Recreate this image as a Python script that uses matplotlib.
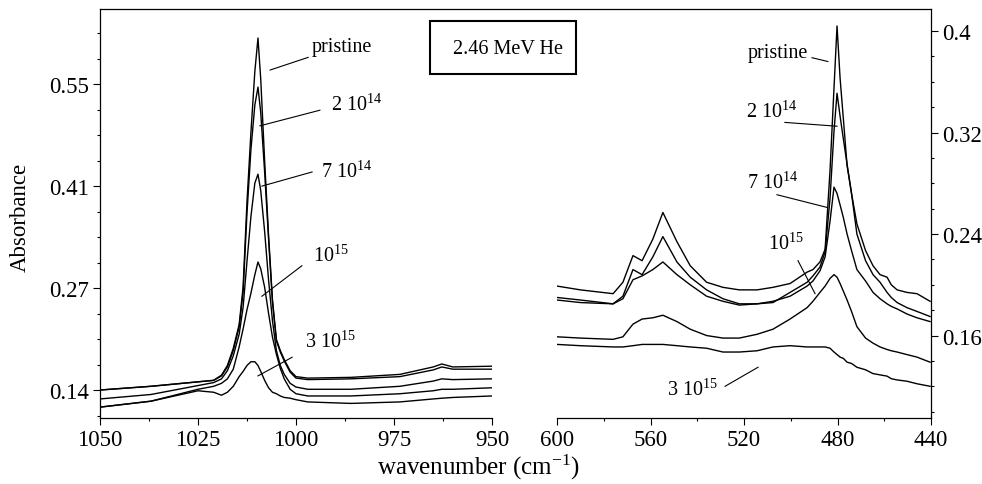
import numpy as np
import matplotlib
matplotlib.use("Agg")
import matplotlib.pyplot as plt
from matplotlib.ticker import MultipleLocator, FuncFormatter
from matplotlib.lines import Line2D
from matplotlib.patches import Rectangle

plt.rcParams['font.family'] = ['Liberation Serif', 'DejaVu Serif']
plt.rcParams['mathtext.fontset'] = 'custom'
plt.rcParams['mathtext.rm'] = 'Liberation Serif'
plt.rcParams['mathtext.it'] = 'Liberation Serif:italic'

# --- data: left panel (1050-950 cm-1) --- #
wn_left = [1050, 1037, 1025, 1021, 1019, 1017.5, 1016, 1014.5, 1013.5, 1012.5, 1011.5,
           1010.5, 1009.7, 1009, 1008, 1007, 1006, 1005, 1004, 1003, 1001.5, 1000, 997,
           986, 973.5, 965, 962.8, 960, 950]
left_pristine = [0.137, 0.142, 0.148, 0.150, 0.157, 0.170, 0.193, 0.225, 0.275, 0.390, 0.483,
                 0.565, 0.610, 0.555, 0.445, 0.345, 0.258, 0.205, 0.190, 0.178, 0.163, 0.155,
                 0.153, 0.154, 0.158, 0.168, 0.172, 0.168, 0.169]
left_2e14 = [0.137, 0.142, 0.148, 0.150, 0.156, 0.168, 0.190, 0.222, 0.268, 0.375, 0.460,
             0.520, 0.544, 0.510, 0.430, 0.340, 0.255, 0.203, 0.188, 0.176, 0.161, 0.153,
             0.151, 0.152, 0.155, 0.164, 0.168, 0.165, 0.165]
left_7e14 = [0.125, 0.131, 0.143, 0.147, 0.152, 0.163, 0.183, 0.212, 0.248, 0.310, 0.370,
             0.415, 0.427, 0.405, 0.350, 0.285, 0.230, 0.190, 0.170, 0.158, 0.146, 0.141,
             0.138, 0.138, 0.142, 0.149, 0.152, 0.151, 0.152]
left_1e15 = [0.114, 0.122, 0.138, 0.142, 0.146, 0.152, 0.165, 0.195, 0.219, 0.245, 0.267,
             0.292, 0.309, 0.300, 0.275, 0.240, 0.208, 0.185, 0.166, 0.152, 0.138, 0.132,
             0.129, 0.129, 0.132, 0.136, 0.138, 0.138, 0.140]
left_3e15 = [0.114, 0.122, 0.136, 0.134, 0.130, 0.134, 0.142, 0.155, 0.162, 0.170, 0.175,
             0.175, 0.170, 0.162, 0.150, 0.140, 0.134, 0.132, 0.129, 0.127, 0.126, 0.124,
             0.121, 0.119, 0.121, 0.125, 0.126, 0.127, 0.129]

# --- data: right panel (600-440 cm-1) --- #
wn_right = [600, 590, 576, 571.8, 567.5, 563.6, 559, 554.7, 548.7, 543, 536, 529, 522,
            514.4, 507.6, 500.3, 493, 490.5, 487.5, 485.3, 483.2, 481.5, 480.2, 478.9,
            477.5, 475.9, 474, 471.7, 468, 464.8, 461.8, 458.8, 457, 454.5, 450.3, 446, 440.4]
right_pristine = [0.199, 0.196, 0.193, 0.202, 0.223, 0.219, 0.236, 0.257, 0.234, 0.215, 0.202,
                  0.198, 0.196, 0.196, 0.198, 0.201, 0.210, 0.212, 0.218, 0.228, 0.290, 0.355,
                  0.404, 0.363, 0.331, 0.294, 0.272, 0.248, 0.227, 0.215, 0.208, 0.206, 0.200,
                  0.196, 0.194, 0.193, 0.187]
right_2e14 = [0.190, 0.188, 0.185, 0.191, 0.212, 0.208, 0.222, 0.238, 0.218, 0.206, 0.196,
              0.189, 0.185, 0.185, 0.186, 0.194, 0.202, 0.207, 0.214, 0.226, 0.268, 0.321,
              0.351, 0.333, 0.315, 0.295, 0.272, 0.240, 0.219, 0.208, 0.202, 0.194, 0.190,
              0.186, 0.182, 0.179, 0.175]
right_7e14 = [0.188, 0.186, 0.185, 0.189, 0.204, 0.207, 0.212, 0.218, 0.208, 0.200, 0.191,
              0.187, 0.184, 0.185, 0.187, 0.191, 0.199, 0.203, 0.211, 0.222, 0.250, 0.277,
              0.272, 0.263, 0.253, 0.240, 0.227, 0.212, 0.203, 0.194, 0.189, 0.185, 0.183,
              0.181, 0.177, 0.174, 0.171]
right_1e15 = [0.159, 0.158, 0.157, 0.159, 0.169, 0.173, 0.174, 0.176, 0.171, 0.165, 0.160,
              0.158, 0.158, 0.161, 0.165, 0.173, 0.182, 0.187, 0.194, 0.199, 0.205, 0.208,
              0.206, 0.201, 0.195, 0.188, 0.179, 0.167, 0.158, 0.154, 0.151, 0.149, 0.148,
              0.147, 0.145, 0.143, 0.139]
right_3e15 = [0.153, 0.152, 0.151, 0.151, 0.152, 0.153, 0.153, 0.153, 0.152, 0.151, 0.150,
              0.147, 0.147, 0.148, 0.151, 0.152, 0.151, 0.151, 0.151, 0.151, 0.150, 0.147,
              0.145, 0.143, 0.142, 0.139, 0.138, 0.135, 0.133, 0.130, 0.129, 0.128, 0.126,
              0.125, 0.124, 0.122, 0.120]

labels = ['pristine', r'2 $10^{14}$', r'7 $10^{14}$', r'$10^{15}$', r'3 $10^{15}$']
left_series = [left_pristine, left_2e14, left_7e14, left_1e15, left_3e15]
right_series = [right_pristine, right_2e14, right_7e14, right_1e15, right_3e15]

# label text position and leader line (start, end) in data coords
left_notes = [((988.3, 0.598), (996.9, 0.584), (1006.6, 0.567)),
              ((984.4, 0.521), (993.9, 0.513), (1009.2, 0.492)),
              ((987.2, 0.431), (995.9, 0.430), (1008.7, 0.411)),
              ((991.1, 0.318), (998.5, 0.304), (1008.7, 0.263)),
              ((991.3, 0.203), (1001.0, 0.181), (1009.7, 0.156))]
right_notes = [((505.5, 0.383), (490.9, 0.379), (484.1, 0.376)),
               ((508.0, 0.337), (502.5, 0.328), (480.2, 0.325)),
               ((507.6, 0.281), (505.9, 0.271), (484.5, 0.261)),
               ((502.0, 0.233), (496.9, 0.219), (489.6, 0.193)),
               ((542.2, 0.118), (528.1, 0.120), (514.0, 0.135))]

W, H = 982, 485
fig = plt.figure(figsize=(W / 100, H / 100), dpi=100)

ax_l = fig.add_axes([100 / W, 1 - 419 / H, 392 / W, 409 / H])
ax_r = fig.add_axes([557 / W, 1 - 419 / H, 374 / W, 409 / H])

for y in left_series:
    ax_l.plot(wn_left, y, color='black', lw=1.0)
for y in right_series:
    ax_r.plot(wn_right, y, color='black', lw=1.0)

# --- left axis styling --- #
ax_l.set_xlim(1050, 950)
ax_l.set_ylim(0.0994, 0.649)
ax_l.xaxis.set_major_locator(MultipleLocator(25))
ax_l.xaxis.set_minor_locator(MultipleLocator(12.5))
ax_l.yaxis.set_major_locator(MultipleLocator(0.137))
ax_l.yaxis.set_minor_locator(MultipleLocator(0.137 / 4))
ax_l.yaxis.set_major_formatter(FuncFormatter(lambda v, p: '%.2f' % v))
for s in ['top', 'right']:
    ax_l.spines[s].set_visible(False)

# --- right axis styling --- #
ax_r.set_xlim(600, 440)
ax_r.set_ylim(0.095, 0.4174)
ax_r.xaxis.set_major_locator(MultipleLocator(40))
ax_r.xaxis.set_minor_locator(MultipleLocator(20))
ax_r.yaxis.set_major_locator(MultipleLocator(0.08))
ax_r.yaxis.set_minor_locator(MultipleLocator(0.02))
ax_r.yaxis.set_major_formatter(FuncFormatter(lambda v, p: '%g' % round(v, 2)))
ax_r.yaxis.tick_right()
for s in ['top', 'left']:
    ax_r.spines[s].set_visible(False)

for ax in (ax_l, ax_r):
    ax.set_facecolor('none')
    ax.tick_params(which='major', length=5, width=0.8, labelsize=16.5, pad=3)
    ax.tick_params(which='minor', length=2.5, width=0.8)
    for s in ax.spines.values():
        s.set_linewidth(0.9)

# annotations with leader lines
for ax, notes in ((ax_l, left_notes), (ax_r, right_notes)):
    for lab, (txt, p0, p1) in zip(labels, notes):
        ax.text(txt[0], txt[1], lab, fontsize=14.5, ha='center', va='center')
        ax.plot([p0[0], p1[0]], [p0[1], p1[1]], color='black', lw=0.8)

# top frame line over both panels
fig.add_artist(Line2D([100 / W, 931 / W], [1 - 10 / H, 1 - 10 / H],
                      color='black', lw=0.9, transform=fig.transFigure))

# boxed title
fig.add_artist(Rectangle((430 / W, 1 - 75 / H), 146 / W, 53 / H, fill=False,
                         edgecolor='black', lw=1.5, transform=fig.transFigure))
fig.text(508 / W, 1 - 49 / H, '2.46 MeV He', fontsize=14.5, ha='center', va='center')

fig.text(20 / W, 1 - 217 / H, 'Absorbance', fontsize=16.5, rotation=90,
         ha='center', va='center')
fig.text(478 / W, 1 - 482 / H, r'wavenumber (cm$^{-1}$)', fontsize=18,
         ha='center', va='bottom')

fig.savefig('out.png', dpi=100)
